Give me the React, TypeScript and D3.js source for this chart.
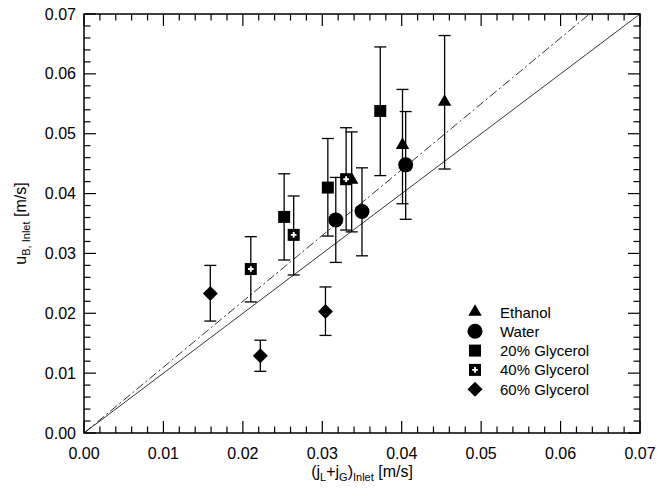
import * as d3 from "d3";

const W = 658;
const H = 498;
const M = { top: 14, right: 18, bottom: 65, left: 84 };
const IW = W - M.left - M.right;
const IH = H - M.top - M.bottom;

const MAJOR = [0, 0.01, 0.02, 0.03, 0.04, 0.05, 0.06, 0.07];
const MINOR = d3.range(0, 0.0701, 0.002);

// each series: x, y, lower and upper error
const ethanolX = [0.0337, 0.0401, 0.0454];
const ethanolY = [0.0423, 0.0481, 0.0553];
const ethanolLo = [0.0336, 0.0383, 0.0441];
const ethanolHi = [0.0503, 0.0574, 0.0664];

const waterX = [0.0317, 0.0350, 0.0405];
const waterY = [0.0356, 0.0370, 0.0448];
const waterLo = [0.0285, 0.0296, 0.0357];
const waterHi = [0.0427, 0.0443, 0.0537];

const gly20X = [0.0252, 0.0307, 0.0373];
const gly20Y = [0.0361, 0.0410, 0.0538];
const gly20Lo = [0.0289, 0.0329, 0.0430];
const gly20Hi = [0.0433, 0.0492, 0.0645];

const gly40X = [0.0210, 0.0264, 0.0330];
const gly40Y = [0.0274, 0.0331, 0.0424];
const gly40Lo = [0.0219, 0.0264, 0.0339];
const gly40Hi = [0.0328, 0.0396, 0.0510];

const gly60X = [0.0159, 0.0222, 0.0304];
const gly60Y = [0.0233, 0.0129, 0.0203];
const gly60Lo = [0.0187, 0.0103, 0.0163];
const gly60Hi = [0.0280, 0.0155, 0.0244];

const DASH_SLOPE = 1.1;

type Kind = "tri" | "circ" | "sq" | "sqplus" | "dia";

const series: { name: string; kind: Kind; x: number[]; y: number[]; lo: number[]; hi: number[] }[] = [
  { name: "Ethanol", kind: "tri", x: ethanolX, y: ethanolY, lo: ethanolLo, hi: ethanolHi },
  { name: "Water", kind: "circ", x: waterX, y: waterY, lo: waterLo, hi: waterHi },
  { name: "20% Glycerol", kind: "sq", x: gly20X, y: gly20Y, lo: gly20Lo, hi: gly20Hi },
  { name: "40% Glycerol", kind: "sqplus", x: gly40X, y: gly40Y, lo: gly40Lo, hi: gly40Hi },
  { name: "60% Glycerol", kind: "dia", x: gly60X, y: gly60Y, lo: gly60Lo, hi: gly60Hi },
];

const FONT = "'Liberation Sans', Arial, Helvetica, sans-serif";

function Marker({ kind, cx, cy }: { kind: Kind; cx: number; cy: number }) {
  const t = `translate(${cx},${cy})`;
  if (kind === "tri") {
    return <path transform={t} d={d3.symbol(d3.symbolTriangle, 78)()!} fill="#000" />;
  }
  if (kind === "circ") {
    return <circle cx={cx} cy={cy} r={7.5} fill="#000" />;
  }
  if (kind === "sq") {
    return <path transform={t} d={d3.symbol(d3.symbolSquare, 144)()!} fill="#000" />;
  }
  if (kind === "sqplus") {
    return (
      <g transform={t}>
        <path d={d3.symbol(d3.symbolSquare, 144)()!} fill="#000" />
        <path d={d3.symbol(d3.symbolCross, 18)()!} fill="#fff" />
      </g>
    );
  }
  return <path transform={`${t} rotate(45)`} d={d3.symbol(d3.symbolSquare, 112)()!} fill="#000" />;
}

export default function App() {
  const x = d3.scaleLinear().domain([0, 0.07]).range([0, IW]);
  const y = d3.scaleLinear().domain([0, 0.07]).range([IH, 0]);
  const fmt = d3.format(".2f");

  return (
    <svg
      width={W}
      height={H}
      style={{ position: "absolute", left: 0, top: 0, fontFamily: FONT }}
    >
      <rect width={W} height={H} fill="#fff" />
      <defs>
        <clipPath id="plotclip">
          <rect width={IW} height={IH} />
        </clipPath>
      </defs>
      <g transform={`translate(${M.left},${M.top})`}>
        {/* reference lines */}
        <g clipPath="url(#plotclip)">
          <line x1={x(0)} y1={y(0)} x2={x(0.07)} y2={y(0.07)} stroke="#000" strokeWidth={0.8} />
          <line
            x1={x(0)}
            y1={y(0)}
            x2={x(0.07)}
            y2={y(0.07 * DASH_SLOPE)}
            stroke="#000"
            strokeWidth={0.8}
            strokeDasharray="9 3 2 3"
          />
        </g>

        {/* error bars */}
        {series.map((s) =>
          s.x.map((xv, i) => (
            <g key={s.name + i} stroke="#000" strokeWidth={1.3}>
              <line x1={x(xv)} x2={x(xv)} y1={y(s.lo[i])} y2={y(s.hi[i])} />
              <line x1={x(xv) - 6} x2={x(xv) + 6} y1={y(s.lo[i])} y2={y(s.lo[i])} />
              <line x1={x(xv) - 6} x2={x(xv) + 6} y1={y(s.hi[i])} y2={y(s.hi[i])} />
            </g>
          ))
        )}

        {/* markers */}
        {series.map((s) =>
          s.x.map((xv, i) => <Marker key={s.name + "m" + i} kind={s.kind} cx={x(xv)} cy={y(s.y[i])} />)
        )}

        {/* frame */}
        <rect width={IW} height={IH} fill="none" stroke="#000" strokeWidth={1.5} />

        {/* ticks */}
        {MINOR.map((t) => {
          const major = MAJOR.some((m) => Math.abs(m - t) < 1e-6);
          const len = major ? 12 : 6.5;
          return (
            <g key={t} stroke="#000" strokeWidth={1.2}>
              <line x1={x(t)} x2={x(t)} y1={IH} y2={IH - len} />
              <line x1={x(t)} x2={x(t)} y1={0} y2={len} />
              <line x1={0} x2={len} y1={y(t)} y2={y(t)} />
              <line x1={IW} x2={IW - len} y1={y(t)} y2={y(t)} />
            </g>
          );
        })}

        {/* tick labels */}
        {MAJOR.map((t) => (
          <text key={"x" + t} x={x(t)} y={IH + 26} textAnchor="middle" fontSize={16} fill="#000">
            {fmt(t)}
          </text>
        ))}
        {MAJOR.map((t) => (
          <text
            key={"y" + t}
            x={-8}
            y={y(t)}
            textAnchor="end"
            dominantBaseline="central"
            fontSize={16}
            fill="#000"
          >
            {fmt(t)}
          </text>
        ))}

        {/* legend */}
        {series.map((s, i) => (
          <g key={"leg" + s.name}>
            <Marker kind={s.kind} cx={391} cy={298 + i * 19.3} />
            <text x={416} y={298 + i * 19.3} dominantBaseline="central" fontSize={15} fill="#000">
              {s.name}
            </text>
          </g>
        ))}
      </g>

      {/* axis titles */}
      <text x={M.left + IW / 2} y={477} textAnchor="middle" fontSize={16} fill="#000">
        (j<tspan fontSize={11} dy={4}>L</tspan>
        <tspan dy={-4}>+j</tspan>
        <tspan fontSize={11} dy={4}>G</tspan>
        <tspan dy={-4}>)</tspan>
        <tspan fontSize={11} dy={4}>Inlet</tspan>
        <tspan dy={-4}> [m/s]</tspan>
      </text>
      <text
        transform={`translate(26,${M.top + IH / 2}) rotate(-90)`}
        textAnchor="middle"
        fontSize={16}
        fill="#000"
      >
        u<tspan fontSize={11} dy={4}>B, Inlet</tspan>
        <tspan dy={-4}> [m/s]</tspan>
      </text>
    </svg>
  );
}
